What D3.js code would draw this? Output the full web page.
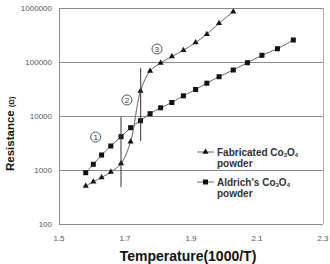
<!DOCTYPE html>
<html><head><meta charset="utf-8">
<script src="https://cdn.jsdelivr.net/npm/d3@7"></script>
<style>html,body{margin:0;padding:0;background:#fff}svg{display:block;font-family:"Liberation Sans",Arial,sans-serif}</style>
</head><body>
<script>
// Data (x = 1000/T, y = resistance in ohm)
const aldrichX = [1.581,1.604,1.629,1.657,1.688,1.717,1.747,1.776,1.808,1.842,1.877,1.914,1.948,1.985,2.028,2.071,2.115,2.162,2.21];
const aldrichY = [891,1276,1896,2783,4140,6070,8180,11040,14190,17780,23660,30960,40500,53400,71100,97000,133000,176300,255400];
const fabX = [1.581,1.604,1.629,1.657,1.688,1.717,1.747,1.776,1.808,1.842,1.877,1.914,1.948,1.985,2.028];
const fabY = [506,607,726,918,1318,3340,29000,68100,95800,126400,164700,229700,327000,521000,854000];
const xTicks = [1.5,1.7,1.9,2.1,2.3];
const yTicks = [100,1000,10000,100000,1000000];
const yTickLabels = ["100","1000","10000","100000","1000000"];
// annotation markers: vertical boundary lines [x, yLow, yHigh] and circled labels [label, x, y]
const boundaries = [[1.6879,484,9570],[1.7475,3440,77400]];
const regionLabels = [["1",1.611,4080],["2",1.706,19800],["3",1.797,174000]];

const W=330,H=264;
const svg=d3.select("body").append("svg").attr("width",W).attr("height",H);
svg.append("rect").attr("width",W).attr("height",H).attr("fill","#fff");
const x=d3.scaleLinear().domain([1.5,2.3]).range([59,323]);
const y=d3.scaleLog().domain([100,1000000]).range([224,8]);

// gridlines
svg.append("g").selectAll("line").data(yTicks.slice(1)).join("line")
  .attr("x1",x(1.5)).attr("x2",x(2.3)).attr("y1",d=>y(d)).attr("y2",d=>y(d))
  .attr("stroke","#8a8a8a").attr("stroke-width",1).attr("shape-rendering","crispEdges");
// frame
svg.append("line").attr("x1",x(1.5)).attr("x2",x(1.5)).attr("y1",y(1e6)).attr("y2",y(100)).attr("stroke","#8a8a8a").attr("shape-rendering","crispEdges");
svg.append("line").attr("x1",x(2.3)).attr("x2",x(2.3)).attr("y1",y(1e6)).attr("y2",y(100)).attr("stroke","#b0b0b0").attr("shape-rendering","crispEdges");
svg.append("line").attr("x1",x(1.5)).attr("x2",x(2.3)).attr("y1",y(100)).attr("y2",y(100)).attr("stroke","#8a8a8a").attr("shape-rendering","crispEdges");

// axes labels
svg.append("g").selectAll("text").data(yTicks).join("text")
  .attr("x",52).attr("y",d=>y(d)+3).attr("text-anchor","end")
  .attr("font-size",8).attr("fill","#555").text((d,i)=>yTickLabels[i]);
svg.append("g").selectAll("text").data(xTicks).join("text")
  .attr("x",d=>x(d)).attr("y",241).attr("text-anchor","middle")
  .attr("font-size",8).attr("fill","#555").text(d=>d.toFixed(1));

svg.append("text").attr("x",188).attr("y",260.5).attr("text-anchor","middle")
  .attr("font-size",14).attr("font-weight","bold").attr("fill","#111").text("Temperature(1000/T)");
const yt=svg.append("text").attr("transform","translate(14,171) rotate(-90)")
  .attr("font-size",11.5).attr("font-weight","bold").attr("fill","#111");
yt.append("tspan").text("Resistance ");
yt.append("tspan").attr("font-size",7).text("(Ω)");

// series
const line=d3.line().x(d=>x(d[0])).y(d=>y(d[1])).curve(d3.curveCatmullRom.alpha(0.5));
const aData=aldrichX.map((v,i)=>[v,aldrichY[i]]);
const fData=fabX.map((v,i)=>[v,fabY[i]]);
svg.append("path").attr("d",line(aData)).attr("fill","none").attr("stroke","#666").attr("stroke-width",1);
svg.append("path").attr("d",line(fData)).attr("fill","none").attr("stroke","#666").attr("stroke-width",1);
svg.append("g").selectAll("rect").data(aData).join("rect")
  .attr("x",d=>x(d[0])-2.5).attr("y",d=>y(d[1])-2.5).attr("width",5).attr("height",5).attr("fill","#111");
const tri=d3.symbol().type(d3.symbolTriangle).size(16);
svg.append("g").selectAll("path").data(fData).join("path")
  .attr("transform",d=>`translate(${x(d[0])},${y(d[1])})`).attr("d",tri).attr("fill","#111");

// boundary lines
svg.append("g").selectAll("line").data(boundaries).join("line")
  .attr("x1",d=>x(d[0])).attr("x2",d=>x(d[0])).attr("y1",d=>y(d[1])).attr("y2",d=>y(d[2]))
  .attr("stroke","#333").attr("stroke-width",1);
// circled labels
const rl=svg.append("g").selectAll("g").data(regionLabels).join("g")
  .attr("transform",d=>`translate(${x(d[1])},${y(d[2])})`);
rl.append("circle").attr("r",5).attr("fill","#fff").attr("stroke","#444").attr("stroke-width",0.9);
rl.append("text").attr("y",3).attr("text-anchor","middle").attr("font-size",8).attr("fill","#333").text(d=>d[0]);

// legend
const legend=[{name:"Fabricated",sym:"tri",y:152},{name:"Aldrich's",sym:"sq",y:182}];
const lg=svg.append("g").selectAll("g").data(legend).join("g").attr("transform",d=>`translate(0,${d.y})`);
lg.append("line").attr("x1",197).attr("x2",214).attr("stroke","#666");
lg.filter(d=>d.sym==="sq").append("rect").attr("x",203).attr("y",-2.5).attr("width",5).attr("height",5).attr("fill","#111");
lg.filter(d=>d.sym==="tri").append("path").attr("transform","translate(205.5,0)").attr("d",tri).attr("fill","#111");
const lt=lg.append("text").attr("x",217).attr("y",3.5).attr("font-size",10).attr("font-weight","bold").attr("fill","#333");
lt.append("tspan").text(d=>d.name+" Co");
lt.append("tspan").attr("font-size",6).attr("dy",1).text("3");
lt.append("tspan").attr("dy",-1).text("O");
lt.append("tspan").attr("font-size",6).attr("dy",1).text("4");
lg.append("text").attr("x",217).attr("y",14.5).attr("font-size",10).attr("font-weight","bold").attr("fill","#333").text("powder");
</script>
</body></html>
